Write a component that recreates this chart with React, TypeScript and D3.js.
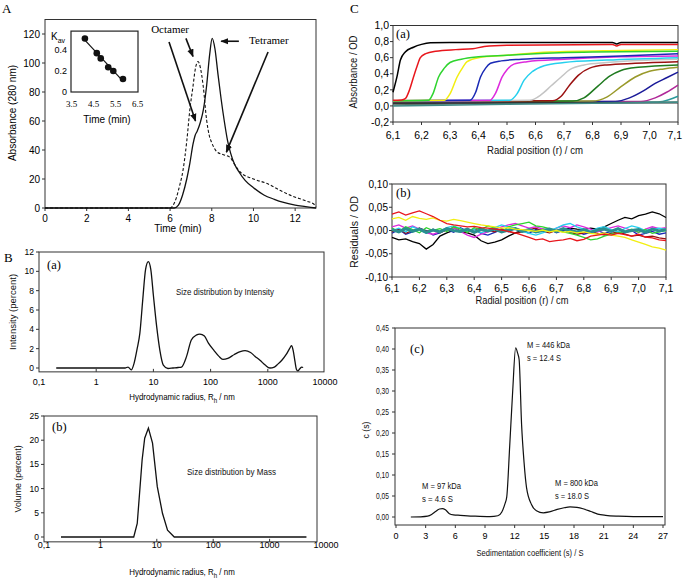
import React from 'react'
import * as d3 from 'd3'

const SANS = '"Liberation Sans", Arial, sans-serif'
const SERIF = '"Liberation Serif", "Times New Roman", serif'

type Pt = [number, number]

// ---- A: SEC elution profiles
const tetramerTime = [0, 6.2, 6.4, 6.6, 6.8, 6.95, 7.1, 7.2, 7.3, 7.45, 7.6, 7.75, 7.9, 8.02, 8.15, 8.3, 8.45, 8.6, 8.75, 8.9, 9.1, 9.3, 9.6, 10, 10.5, 11, 11.4, 12, 12.5, 13]
const tetramerAbs = [0, 0, 2, 9, 20, 31, 44, 50, 53, 59, 68, 84, 106, 117, 110, 92, 75, 60, 47, 38, 30, 25, 19, 14, 9, 6, 4, 2, 1, 0]
const octamerTime = [0, 6.0, 6.1, 6.3, 6.45, 6.62, 6.8, 6.95, 7.1, 7.2, 7.34, 7.45, 7.59, 7.75, 7.88, 8.0, 8.23, 8.5, 8.87, 9.1, 9.35, 10, 10.63, 11.3, 11.9, 12.5, 12.95, 13]
const octamerAbs = [0, 0, 1, 7, 15, 26, 46, 68, 84, 95, 101, 97, 84, 61, 50, 45, 39, 37, 35, 30, 25, 20, 17, 12, 8, 5, 2, 1]
const timeTicks = [0, 2, 4, 6, 8, 10, 12]
const absTicks = [0, 20, 40, 60, 80, 100, 120]
// inset: Kav calibration
const kavTime = [4.1, 4.64, 4.82, 5.16, 5.39, 5.83]
const kavValue = [0.51, 0.37, 0.32, 0.235, 0.2, 0.124]
const kavTimeTicks = ['3.5', '4.5', '5.5', '6.5']
const kavTicks = ['0', '0.2', '0.4']

// ---- B: DLS size distributions
const radiusTicks = [0.1, 1, 10, 100, 1000, 10000]
const radiusLabels = ['0,1', '1', '10', '100', '1000', '10000']
const intensityRadius = [0.2, 3.2, 3.6, 4.1, 4.6, 5.2, 5.8, 6.5, 7.3, 8.15, 9, 10, 11.4, 13, 14.9, 18, 22, 27, 31, 38, 46, 56, 65, 78, 91, 115, 140, 164, 200, 260, 330, 400, 500, 600, 730, 900, 1090, 1300, 1500, 1760, 2100, 2400, 2600, 2780, 2980, 3150, 3350, 3600, 3930, 4150]
const intensityPct = [0, 0, 0.1, -0.2, 0.5, 2, 3.6, 7, 10.2, 11, 10.2, 7.5, 4.3, 1.8, 0.3, -0.05, 0, 0.05, 0.1, 1.2, 2.9, 3.4, 3.5, 3.3, 2.6, 1.8, 1.2, 0.9, 1.0, 1.4, 1.7, 1.8, 1.6, 1.2, 0.8, 0.3, 0, 0.1, 0.4, 0.8, 1.4, 2.0, 2.3, 1.8, 0.7, -0.1, -0.3, -0.1, 0.1, 0.05]
const intensityTicks = [0, 2, 4, 6, 8, 10, 12]
const massRadius = [0.2, 3.9, 4.5, 5.5, 6.1, 7.1, 8.4, 10.2, 12.6, 15.5, 20.4, 4500]
const massPct = [0, 0, 2.8, 16, 20.4, 22.5, 19.4, 10.4, 4.9, 1.4, 0, 0]
const volumeTicks = [0, 5, 10, 15, 20, 25]

// ---- C(a): absorbance scans (radius cm, OD)
const radialTicks = [6.1, 6.2, 6.3, 6.4, 6.5, 6.6, 6.7, 6.8, 6.9, 7.0, 7.1]
const odTicks = [-0.2, 0, 0.2, 0.4, 0.6, 0.8, 1.0]
const absorbanceScans: Pt[][] = [
  [[6.1, 0.045], [7.03, 0.05], [7.07, 0.08], [7.1, 0.12]],
  [[6.1, 0.05], [6.97, 0.055], [7.02, 0.1], [7.06, 0.17], [7.1, 0.26]],
  [[6.1, 0.05], [6.88, 0.055], [6.93, 0.1], [6.98, 0.19], [7.02, 0.28], [7.06, 0.35], [7.1, 0.42]],
  [[6.1, 0.055], [6.8, 0.06], [6.85, 0.11], [6.9, 0.24], [6.95, 0.36], [7.0, 0.43], [7.05, 0.46], [7.1, 0.48]],
  [[6.1, 0.055], [6.73, 0.06], [6.77, 0.1], [6.82, 0.25], [6.86, 0.37], [6.9, 0.44], [6.96, 0.48], [7.1, 0.51]],
  [[6.1, 0.055], [6.66, 0.065], [6.69, 0.12], [6.72, 0.26], [6.75, 0.38], [6.79, 0.47], [6.85, 0.51], [6.95, 0.53], [7.1, 0.55]],
  [[6.1, 0.06], [6.58, 0.07], [6.62, 0.14], [6.655, 0.25], [6.69, 0.36], [6.72, 0.45], [6.77, 0.51], [6.85, 0.54], [7.1, 0.58]],
  [[6.1, 0.065], [6.51, 0.07], [6.535, 0.15], [6.56, 0.32], [6.59, 0.43], [6.63, 0.5], [6.7, 0.54], [6.85, 0.57], [7.1, 0.6]],
  [[6.1, 0.065], [6.44, 0.07], [6.46, 0.16], [6.483, 0.36], [6.5, 0.45], [6.524, 0.52], [6.57, 0.55], [6.7, 0.58], [6.9, 0.61], [7.1, 0.62]],
  [[6.1, 0.065], [6.37, 0.07], [6.39, 0.17], [6.407, 0.36], [6.425, 0.47], [6.442, 0.53], [6.48, 0.56], [6.55, 0.58], [6.7, 0.6], [6.9, 0.62], [7.1, 0.65]],
  [[6.1, 0.065], [6.28, 0.07], [6.3, 0.15], [6.325, 0.36], [6.345, 0.48], [6.36, 0.55], [6.4, 0.6], [6.5, 0.63], [6.65, 0.67], [6.9, 0.69], [7.1, 0.7]],
  [[6.1, 0.065], [6.225, 0.07], [6.24, 0.15], [6.26, 0.36], [6.28, 0.47], [6.3, 0.54], [6.34, 0.58], [6.4, 0.61], [6.5, 0.63], [6.6, 0.65], [6.8, 0.67], [7.1, 0.68]],
  [[6.1, 0.07], [6.13, 0.075], [6.143, 0.09], [6.158, 0.2], [6.172, 0.36], [6.185, 0.5], [6.196, 0.6], [6.215, 0.65], [6.25, 0.68], [6.32, 0.7], [6.38, 0.71], [6.42, 0.74], [6.5, 0.755], [6.87, 0.765], [6.885, 0.745], [6.9, 0.765], [7.1, 0.765]],
  [[6.1, 0.17], [6.115, 0.38], [6.126, 0.57], [6.143, 0.67], [6.172, 0.73], [6.2, 0.765], [6.231, 0.785], [6.3, 0.79], [6.87, 0.79], [6.885, 0.77], [6.9, 0.79], [7.1, 0.79]],
  [[6.1, 0.01], [6.4, 0.03], [6.8, 0.04], [7.1, 0.05]],
  [[6.1, 0.03], [6.5, 0.04], [7.1, 0.04]],
  [[6.1, 0.0], [6.5, 0.02], [7.1, 0.045]],
]
const scanColors = ['#2a9a9a', '#b02898', '#1a1a99', '#99992a', '#1f7a1f', '#9a1010', '#c4c4c4', '#26d0ee', '#dd2add', '#1a2ab5', '#f2ee10', '#2ed42e', '#e8161c', '#000000', '#5d7c70', '#333333', '#3f8a86']

// ---- C(b): residuals, thousandths of OD on a 0.025 cm grid
const residualTicks = [-0.1, -0.05, 0, 0.05, 0.1]
const residualLabels = ['-0,10', '-0,05', '0,00', '0,05', '0,10']
const residualBlack = [-15, -20, -18, -24, -28, -40, -30, -12, -5, 0, -3, -5, -10, -22, -28, -25, -20, -12, -5, 0, 2, -2, 3, 0, -3, 2, 5, 3, 2, 5, 3, 8, 15, 22, 28, 25, 32, 35, 40, 36, 28]
const residualBlue = [-6, 2, -8, -3, 5, 0, -10, -5, 2, -4, 6, -2, 3, -6, -10, -4, 2, -3, 5, 0, -6, 2, -2, 4, -5, 0, 3, -3, -8, -4, 0, -6, -2, 3, -5, 0, -10, -6, -2, -8, -5]
const residualDarkRed = [-3, 4, -6, 0, 5, -2, 3, -5, 2, 6, -1, -4, 2, 5, 0, -3, 4, -2, -6, -3, 2, 5, -2, -5, 0, 3, -4, -8, -5, -2, -6, -10, -6, -3, -8, -12, -10, -14, -12, -16, -18]
const residualMagenta = [8, 12, 5, 10, 3, -5, -8, -3, 2, 6, -2, -10, -15, -8, -3, 2, 8, 12, 15, 10, 5, 8, 3, -2, 5, 10, 6, 12, 8, 3, -3, 2, 6, 10, 5, 0, -4, 3, 8, 4, 6]
const residualCyan = [0, 5, -3, 8, 2, -6, 3, -2, 6, 10, 4, -3, 2, -5, 0, 6, 12, 8, 4, -2, -6, -10, -5, 0, 5, 12, 15, 8, 3, -2, 5, 8, 2, -3, 4, 10, 6, 0, 3, 5, 2]
const residualGreen = [5, -3, 8, 2, -5, 6, 0, 4, -2, 8, 3, -4, 6, 2, 10, 5, -3, 8, 12, 15, 18, 10, 8, 4, 0, -3, -6, -10, -15, -20, -18, -12, -8, -5, -2, 3, -4, 2, -6, -3, 0]
const residualTeal = [2, -3, 4, -2, 3, -4, 1, -3, 4, 0, -2, 3, -4, 2, -1, 3, -3, 1, 4, -2, 2, -3, 0, 3, -2, 4, -1, -3, 2, -4, 1, 3, -2, 4, -3, 0, 2, -4, 3, -1, 2]
const residualYellow = [25, 28, 22, 30, 26, 24, 27, 22, 20, 24, 21, 18, 15, 12, 10, 8, 5, 6, 3, 2, 0, -2, 1, -3, 0, -4, -2, -5, -3, -6, -8, -5, -10, -12, -15, -20, -25, -30, -35, -38, -42]
const residualRed = [35, 40, 33, 38, 42, 36, 30, 22, 15, 12, 10, 8, 9, 6, 5, 3, 1, -2, -5, -10, -15, -20, -18, -24, -22, -20, -17, -22, -19, -12, -10, -8, -10, -6, -9, -12, -8, -14, -16, -20, -22]
const residualSeries = [residualBlack, residualBlue, residualDarkRed, residualMagenta, residualCyan, residualGreen, residualTeal, residualYellow, residualRed]
const residualColors = ['#000000', '#1a2ab5', '#9a1010', '#dd2add', '#26d0ee', '#2ed42e', '#2a8f8f', '#f2ee10', '#e8161c']

// ---- C(c): c(s) distribution
const sedCoef = [1.5, 2.5, 3.2, 3.6, 4.0, 4.4, 4.7, 5.0, 5.4, 5.8, 6.5, 8, 9.5, 10.3, 10.7, 11.0, 11.2, 11.5, 11.8, 12.1, 12.3, 12.45, 12.7, 12.95, 13.2, 13.7, 14.2, 14.9, 15.5, 16.3, 17.0, 17.6, 18.3, 19.0, 19.7, 20.4, 21.2, 22.5, 24, 27]
const sedConc = [0, 0.0005, 0.002, 0.006, 0.013, 0.019, 0.02, 0.017, 0.008, 0.005, 0.004, 0.002, 0.001, 0.003, 0.012, 0.03, 0.048, 0.17, 0.3, 0.403, 0.39, 0.375, 0.22, 0.13, 0.07, 0.03, 0.015, 0.01, 0.012, 0.018, 0.022, 0.024, 0.023, 0.019, 0.013, 0.007, 0.004, 0.002, 0.001, 0.001]
const sedTicks = [0, 3, 6, 9, 12, 15, 18, 21, 24, 27]
const concTicks = [0, 0.05, 0.1, 0.15, 0.2, 0.25, 0.3, 0.35, 0.4, 0.45]

const comma = (v: number, d: number) => v.toFixed(d).replace('.', ',')

function linePath(pts: Pt[], x: (v: number) => number, y: (v: number) => number, curve: d3.CurveFactory = d3.curveMonotoneX) {
  return d3.line<Pt>().x(d => x(d[0])).y(d => y(d[1])).curve(curve)(pts) || ''
}

// condensed text (narrow font look)
function NText({ x, y, w, size = 9, anchor = 'start', rotate = false, children }: any) {
  return (
    <text x={x} y={y} fontFamily={SANS} fontSize={size} textAnchor={anchor} fill="#111"
      textLength={w} lengthAdjust="spacingAndGlyphs"
      transform={rotate ? `rotate(-90 ${x} ${y})` : undefined}>{children}</text>
  )
}

function PanelA() {
  const x = d3.scaleLinear().domain([0, 13]).range([45, 316])
  const y = d3.scaleLinear().domain([0, 130]).range([208, 19.5])
  const tet: Pt[] = tetramerTime.map((t, i) => [t, tetramerAbs[i]])
  const oct: Pt[] = octamerTime.map((t, i) => [t, octamerAbs[i]])

  // inset
  const xi = d3.scaleLinear().domain([3.5, 6.5]).range([71.7, 137.7])
  const yi = d3.scaleLinear().domain([0, 0.2]).range([92, 71])
  const mx = d3.mean(kavTime)!, my = d3.mean(kavValue)!
  const slope = d3.sum(kavTime.map((t, i) => (t - mx) * (kavValue[i] - my))) / d3.sum(kavTime.map(t => (t - mx) ** 2))
  const fit = (t: number) => my + slope * (t - mx)
  const t0 = kavTime[0], t1 = kavTime[kavTime.length - 1]

  const arrow = (a: Pt, b: Pt, k: string) => (
    <line key={k} x1={x(a[0])} y1={y(a[1])} x2={x(b[0])} y2={y(b[1])} stroke="#111" strokeWidth={1.6} markerEnd="url(#head)" />
  )

  return (
    <g>
      <text x={2} y={13} fontFamily={SERIF} fontSize={13}>A</text>
      <rect x={x(0)} y={y(130)} width={x(13) - x(0)} height={y(0) - y(130)} fill="none" stroke="#333" />
      {absTicks.map(v => (
        <g key={v}>
          <line x1={x(0) - 3} x2={x(0)} y1={y(v)} y2={y(v)} stroke="#333" />
          <text x={x(0) - 5} y={y(v)} dy="0.35em" textAnchor="end" fontFamily={SANS} fontSize={10}>{v}</text>
        </g>
      ))}
      {timeTicks.map(v => (
        <g key={v}>
          <line x1={x(v)} x2={x(v)} y1={y(0)} y2={y(0) + 3} stroke="#333" />
          <text x={x(v)} y={y(0) + 14} textAnchor="middle" fontFamily={SANS} fontSize={10}>{v}</text>
        </g>
      ))}
      <text x={178} y={232} textAnchor="middle" fontFamily={SANS} fontSize={10}>Time (min)</text>
      <text x={16} y={113} textAnchor="middle" fontFamily={SANS} fontSize={10} transform="rotate(-90 16 113)">Absorbance (280 nm)</text>

      <path d={linePath(oct, x, y)} fill="none" stroke="#111" strokeWidth={1.1} strokeDasharray="3,2" />
      <path d={linePath(tet, x, y)} fill="none" stroke="#111" strokeWidth={1.3} />

      <text x={x(6.0)} y={y(121)} textAnchor="middle" fontFamily={SERIF} fontSize={11}>Octamer</text>
      <text x={x(10.74)} y={y(113)} textAnchor="middle" fontFamily={SERIF} fontSize={11}>Tetramer</text>
      {arrow([5.95, 114.5], [7.22, 60], 'o1')}
      {arrow([6.76, 117], [7.1, 104.5], 'o2')}
      {arrow([9.3, 115], [8.45, 115], 't1')}
      {arrow([10.7, 107.6], [8.7, 38.5], 't2')}

      {/* inset */}
      <rect x={71} y={yi(0.58)} width={67} height={yi(0) - yi(0.58)} fill="#fff" stroke="#222" strokeWidth={1.2} />
      {kavTicks.map(v => (
        <text key={v} x={67} y={yi(+v)} dy="0.35em" textAnchor="end" fontFamily={SANS} fontSize={9}>{v}</text>
      ))}
      {kavTimeTicks.map(v => (
        <text key={v} x={xi(+v)} y={107} textAnchor="middle" fontFamily={SERIF} fontSize={9}>{v}</text>
      ))}
      <text x={51} y={40} fontFamily={SANS} fontSize={10}>K<tspan fontSize={7} dy={3}>av</tspan></text>
      <text x={107} y={123} textAnchor="middle" fontFamily={SANS} fontSize={10}>Time (min)</text>
      <line x1={xi(t0)} y1={yi(fit(t0))} x2={xi(t1)} y2={yi(fit(t1))} stroke="#111" strokeWidth={1.2} />
      {kavTime.map((t, i) => <circle key={i} cx={xi(t)} cy={yi(kavValue[i])} r={3.3} fill="#111" />)}
    </g>
  )
}

function DlsPanel({ left, right, boxRight, top, bottom, yTicks, yMax, yMin, xs, ys, letter, note, noteX, noteW, noteY, yTitle, yTitleX, yTitleW, curve, labelY, titleY, letterY }: any) {
  const x = d3.scaleLog().domain([0.1, 10000]).range([left, right])
  const y = d3.scaleLinear().domain([0, yMax]).range([bottom, top])
  const pts: Pt[] = xs.map((r: number, i: number) => [r, ys[i]])
  const yb = y(yMin)
  return (
    <g>
      <rect x={left} y={top} width={boxRight - left} height={yb - top} fill="none" stroke="#333" />
      {yTicks.map((v: number) => (
        <g key={v}>
          <line x1={left - 3} x2={left} y1={y(v)} y2={y(v)} stroke="#333" />
          <text x={left - 5} y={y(v)} dy="0.35em" textAnchor="end" fontFamily={SANS} fontSize={8.5}>{v}</text>
        </g>
      ))}
      {radiusTicks.map((v, i) => (
        <g key={v}>
          {v > 0.1 && v < 10000 && <line x1={x(v)} x2={x(v)} y1={yb} y2={yb - 3} stroke="#333" />}
          <text x={x(v)} y={labelY} textAnchor="middle" fontFamily={SANS} fontSize={9}>{radiusLabels[i]}</text>
        </g>
      ))}
      <text x={182} y={titleY} textAnchor="middle" fontFamily={SANS} fontSize={9} transform={`translate(182 0) scale(0.88 1) translate(-182 0)`}>
        Hydrodynamic radius,  R<tspan fontSize={7} dy={3}>h</tspan><tspan dy={-3}> / nm</tspan>
      </text>
      <NText x={yTitleX} y={(top + yb) / 2} w={yTitleW} anchor="middle" rotate>{yTitle}</NText>
      <text x={left + 8} y={letterY} fontFamily={SERIF} fontSize={12.5}>{letter}</text>
      <NText x={noteX} y={noteY} w={noteW}>{note}</NText>
      <path d={linePath(pts, x, y, curve)} fill="none" stroke="#111" strokeWidth={1.3} />
    </g>
  )
}

function PanelCa() {
  const x = d3.scaleLinear().domain([6.1, 7.1]).range([393, 678])
  const y = d3.scaleLinear().domain([-0.2, 1.0]).range([122, 25.5])
  return (
    <g>
      <text x={350} y={13} fontFamily={SERIF} fontSize={13}>C</text>
      <rect x={393} y={25.5} width={285} height={96.5} fill="none" stroke="#333" />
      {odTicks.map(v => (
        <g key={v}>
          <line x1={390} x2={393} y1={y(v)} y2={y(v)} stroke="#333" />
          <text x={389} y={y(v)} dy="0.35em" textAnchor="end" fontFamily={SANS} fontSize={10.5}>{comma(v, 1)}</text>
        </g>
      ))}
      {radialTicks.map((v, i) => {
        const last = i === radialTicks.length - 1
        return (
          <g key={v}>
            <line x1={x(v)} x2={x(v)} y1={122} y2={125} stroke="#333" />
            <text x={last ? 682 : x(v)} y={139} textAnchor={last ? 'end' : 'middle'} fontFamily={SANS} fontSize={10.5}>{comma(v, 1)}</text>
          </g>
        )
      })}
      <NText x={535} y={154} w={96} size={10} anchor="middle">Radial position (r) / cm</NText>
      <NText x={357} y={72} w={73} size={10} anchor="middle" rotate>Absorbance / OD</NText>
      <g>
        {absorbanceScans.map((s, i) => (
          <path key={i} d={linePath(s, x, y)} fill="none" stroke={scanColors[i]} strokeWidth={1.5} />
        ))}
      </g>
      <text x={396} y={38} fontFamily={SERIF} fontSize={12.5}>(a)</text>
    </g>
  )
}

function PanelCb() {
  const x = d3.scaleLinear().domain([6.1, 7.1]).range([392, 666])
  const y = d3.scaleLinear().domain([-0.1, 0.1]).range([277, 184])
  const grid = residualRed.map((_, i) => 6.1 + i * 0.025)
  return (
    <g>
      <rect x={392} y={184} width={274} height={93} fill="none" stroke="#333" />
      {residualTicks.map((v, i) => (
        <g key={v}>
          <line x1={389} x2={392} y1={y(v)} y2={y(v)} stroke="#333" />
          <text x={388} y={y(v)} dy="0.35em" textAnchor="end" fontFamily={SANS} fontSize={10}>{residualLabels[i]}</text>
        </g>
      ))}
      {radialTicks.map(v => (
        <g key={v}>
          <line x1={x(v)} x2={x(v)} y1={277} y2={280} stroke="#333" />
          <text x={x(v)} y={292} textAnchor="middle" fontFamily={SANS} fontSize={10.5}>{comma(v, 1)}</text>
        </g>
      ))}
      <NText x={522} y={304} w={93} size={10} anchor="middle">Radial position (r) / cm</NText>
      <NText x={358} y={232} w={72} size={10} anchor="middle" rotate>Residuals / OD</NText>
      {residualSeries.map((s, k) => (
        <path key={k} d={linePath(s.map((v, i) => [grid[i], v / 1000] as Pt), x, y, d3.curveLinear)}
          fill="none" stroke={residualColors[k]} strokeWidth={k === 6 ? 3 : 1.3} />
      ))}
      <text x={396} y={197} fontFamily={SERIF} fontSize={12.5}>(b)</text>
    </g>
  )
}

function PanelCc() {
  const x = d3.scaleLinear().domain([0, 27]).range([396, 663])
  const y = d3.scaleLinear().domain([0, 0.45]).range([517, 328])
  const pts: Pt[] = sedCoef.map((s, i) => [s, sedConc[i]])
  return (
    <g>
      <rect x={395} y={328} width={270} height={197} fill="none" stroke="#333" />
      {concTicks.map(v => (
        <g key={v}>
          <line x1={392} x2={395} y1={y(v)} y2={y(v)} stroke="#333" />
          <NText x={389} y={y(v) + 3} w={13} size={9} anchor="end">{comma(v, 2)}</NText>
        </g>
      ))}
      {sedTicks.map(v => (
        <g key={v}>
          <line x1={x(v)} x2={x(v)} y1={525} y2={528} stroke="#333" />
          <text x={x(v)} y={539} textAnchor="middle" fontFamily={SANS} fontSize={9}>{v}</text>
        </g>
      ))}
      <NText x={530} y={556} w={107} size={9} anchor="middle">Sedimentation coefficient (s) / S</NText>
      <NText x={369} y={430} w={17} size={9} anchor="middle" rotate>c (s)</NText>
      <text x={410} y={353} fontFamily={SERIF} fontSize={12.5}>(c)</text>
      <NText x={527} y={348} w={43} size={9}>M = 446 kDa</NText>
      <NText x={527} y={361} w={34} size={9}>s = 12.4 S</NText>
      <NText x={422} y={489} w={39} size={9}>M = 97 kDa</NText>
      <NText x={422} y={502} w={31} size={9}>s = 4.6 S</NText>
      <NText x={555} y={486} w={43} size={9}>M = 800 kDa</NText>
      <NText x={555} y={499} w={34} size={9}>s = 18.0 S</NText>
      <path d={linePath(pts, x, y)} fill="none" stroke="#111" strokeWidth={1.2} />
    </g>
  )
}

export default function App() {
  return (
    <svg width={683} height={578} viewBox="0 0 683 578" style={{ position: 'absolute', left: 0, top: 0, background: '#fff' }}>
      <defs>
        <marker id="head" viewBox="0 0 10 10" refX="9" refY="5" markerWidth="8" markerHeight="8" markerUnits="userSpaceOnUse" orient="auto">
          <path d="M0,1 L10,5 L0,9 z" fill="#111" />
        </marker>
      </defs>
      <PanelA />
      <text x={4} y={262} fontFamily={SERIF} fontSize={13}>B</text>
      <DlsPanel left={39} right={325} boxRight={324} top={252} bottom={368} yMax={12} yMin={-0.4} yTicks={intensityTicks}
        xs={intensityRadius} ys={intensityPct} letter="(a)" letterY={269} labelY={385} titleY={400}
        note="Size distribution by Intensity" noteX={176} noteY={295} noteW={98}
        yTitle="Intensity (percent)" yTitleX={16} yTitleW={76} curve={d3.curveMonotoneX} />
      <DlsPanel left={44} right={326} boxRight={317} top={416} bottom={537} yMax={25} yMin={-1} yTicks={volumeTicks}
        xs={massRadius} ys={massPct} letter="(b)" letterY={431} labelY={548} titleY={575}
        note="Size distribution by Mass" noteX={187} noteY={475} noteW={89}
        yTitle="Volume (percent)" yTitleX={21} yTitleW={67} curve={d3.curveLinear} />
      <PanelCa />
      <PanelCb />
      <PanelCc />
    </svg>
  )
}
